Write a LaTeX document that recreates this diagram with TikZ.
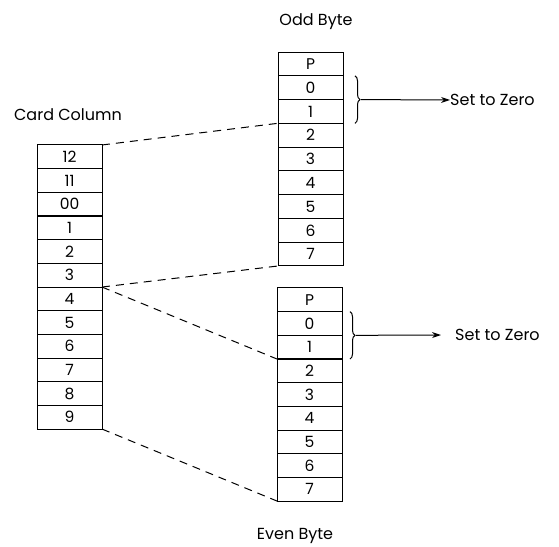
\documentclass[tikz,border=0pt]{standalone}
\usepackage{fontspec}
\setmainfont{Poppins}
\usepackage{tikz}
\usetikzlibrary{arrows.meta, positioning, decorations.pathreplacing}

\begin{document}
\begin{tikzpicture}[
    x=1pt, y=1pt,
    cell/.style={draw, line width=1pt, minimum width=65pt, minimum height=23.7pt, inner sep=0pt, outer sep=0pt, font=\fontsize{15.5}{17}\selectfont},
    title/.style={font=\fontsize{16}{18}\selectfont},
    link/.style={dashed, dash pattern=on 8pt off 6pt, line width=1pt},
    arrow/.style={-{Stealth[length=9pt, width=6pt]}, line width=1pt},
    brace/.style={decorate, decoration={brace, amplitude=5pt}, line width=1pt}
]
\useasboundingbox (0,0) rectangle (559,546);

% Card column
\node[title] (cardlabel) at (68,431) {Card Column};
\foreach \t [count=\i] in {12,11,00,1,2,3,4,5,6,7,8,9}
    \node[cell] (card-\i) at (69.5,{401-(\i-0.5)*23.67}) {\t};

% Odd byte
\node[title] (oddlabel) at (316,524) {Odd Byte};
\foreach \t [count=\i] in {P,0,1,2,3,4,5,6,7}
    \node[cell] (odd-\i) at (310.5,{494-(\i-0.5)*23.78}) {\t};

% Even byte
\node[title] (evenlabel) at (295,10) {Even Byte};
\foreach \t [count=\i] in {P,0,1,2,3,4,5,6,7}
    \node[cell] (even-\i) at (309.5,{258-(\i-0.5)*23.67}) {\t};

% Set to zero
\node[title, anchor=west, inner sep=0pt] (oddzero) at (450,446) {Set to Zero};
\node[title, anchor=west, inner sep=0pt] (evenzero) at (455,211) {Set to Zero};
\draw[brace] ([xshift=12pt]odd-2.north east) -- ([xshift=12pt]odd-3.south east) coordinate[midway, xshift=6pt] (oddtip);
\draw[brace] ([xshift=8pt]even-2.north east) -- ([xshift=8pt]even-3.south east) coordinate[midway, xshift=6pt] (eventip);
\draw[arrow] (oddtip) -- (oddzero.west);
\draw[arrow] (eventip) -- ([xshift=-14pt]evenzero.west);

% Dashed links
\draw[link] (card-1.north east) -- (odd-3.south west);
\draw[link] (card-6.south east) -- (odd-9.south west);
\draw[link] (card-6.south east) -- (even-3.south west);
\draw[link] (card-12.south east) -- (even-9.south west);
\end{tikzpicture}
\end{document}
